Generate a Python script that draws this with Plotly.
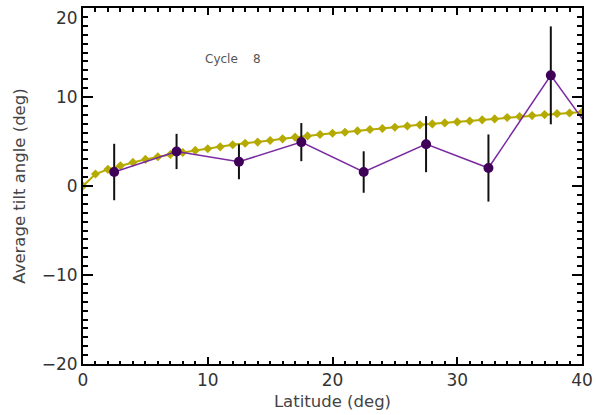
import plotly.graph_objects as go

# Yellow fit curve: latitude 0..40 every 1 deg
fit_lat = list(range(0, 41))
fit_tilt = [0.0, 1.34, 1.87, 2.28, 2.65, 2.99, 3.28, 3.54, 3.77, 4.00,
            4.18, 4.40, 4.63, 4.80, 4.93, 5.11, 5.30, 5.49, 5.63, 5.78,
            5.93, 6.04, 6.19, 6.34, 6.46, 6.60, 6.75, 6.87, 6.98, 7.09,
            7.20, 7.31, 7.43, 7.54, 7.69, 7.80, 7.91, 8.02, 8.13, 8.21, 8.32]

# Binned averages (purple) with error bars
bin_lat = [2.5, 7.5, 12.5, 17.5, 22.5, 27.5, 32.5, 37.5, 42.5]
bin_tilt = [1.57, 3.88, 2.72, 4.93, 1.57, 4.70, 2.02, 12.43, 2.73]
bin_err = [3.17, 1.98, 1.96, 2.14, 2.33, 3.15, 3.77, 5.5, 0.0]

x_ticks = [0, 10, 20, 30, 40]
y_ticks = [-20, -10, 0, 10, 20]

fig = go.Figure()
fig.add_trace(go.Scatter(
    x=fit_lat, y=fit_tilt, mode="lines+markers",
    line=dict(color="#b5aa00", width=2),
    marker=dict(symbol="diamond", size=7, color="#b5aa00"),
    showlegend=False))
fig.add_trace(go.Scatter(
    x=bin_lat, y=bin_tilt, mode="lines+markers",
    line=dict(color="#7a2aa0", width=1.5),
    marker=dict(symbol="circle", size=10, color="#3f0058"),
    error_y=dict(type="data", array=bin_err, visible=True,
                 color="#111111", thickness=2, width=0),
    showlegend=False))

fig.add_annotation(x=12.0, y=14.3, xref="x", yref="y",
                   text="Cycle\u00a0\u00a0\u00a0 8", showarrow=False,
                   font=dict(family="DejaVu Sans", size=12, color="#555555"))

axis_font = dict(family="DejaVu Sans", size=17, color="#333333")
title_font = dict(family="DejaVu Sans", size=16.5, color="#444444")


def fmt(v):
    return str(v).replace("-", "\u2212")


# top y tick label drawn as annotation so it stays inside the page
y_ticktext = [fmt(v) for v in y_ticks[:-1]] + [""]
fig.add_annotation(x=0, xref="paper", y=y_ticks[-1], yref="y",
                   text=fmt(y_ticks[-1]), showarrow=False,
                   xanchor="right", yanchor="top", xshift=-3, yshift=2,
                   font=axis_font)

fig.update_layout(
    width=596, height=415,
    margin=dict(l=83, r=14, t=8, b=51, autoexpand=False),
    paper_bgcolor="white", plot_bgcolor="white",
    xaxis=dict(range=[0, 40], tickvals=x_ticks, ticks="inside", ticklen=7,
               tickwidth=2, tickcolor="black", showline=True, linewidth=2,
               linecolor="black", mirror="ticks", showgrid=False, zeroline=False,
               automargin=False, ticklabeloverflow="allow",
               minor=dict(ticks="inside", dtick=1, ticklen=3.5, tickwidth=1.5,
                          tickcolor="black", showgrid=False),
               tickfont=axis_font,
               title=dict(text="Latitude (deg)", standoff=6, font=title_font)),
    yaxis=dict(range=[-20, 20], tickvals=y_ticks, ticktext=y_ticktext,
               ticks="inside", ticklen=10,
               tickwidth=2, tickcolor="black", showline=True, linewidth=2,
               linecolor="black", mirror="ticks", showgrid=False, zeroline=False,
               automargin=False, ticklabeloverflow="allow",
               minor=dict(ticks="inside", dtick=1, ticklen=5, tickwidth=1.5,
                          tickcolor="black", showgrid=False),
               tickfont=axis_font,
               title=dict(text="Average tilt angle (deg)", standoff=12, font=title_font)),
)

fig.write_html("out.html")
